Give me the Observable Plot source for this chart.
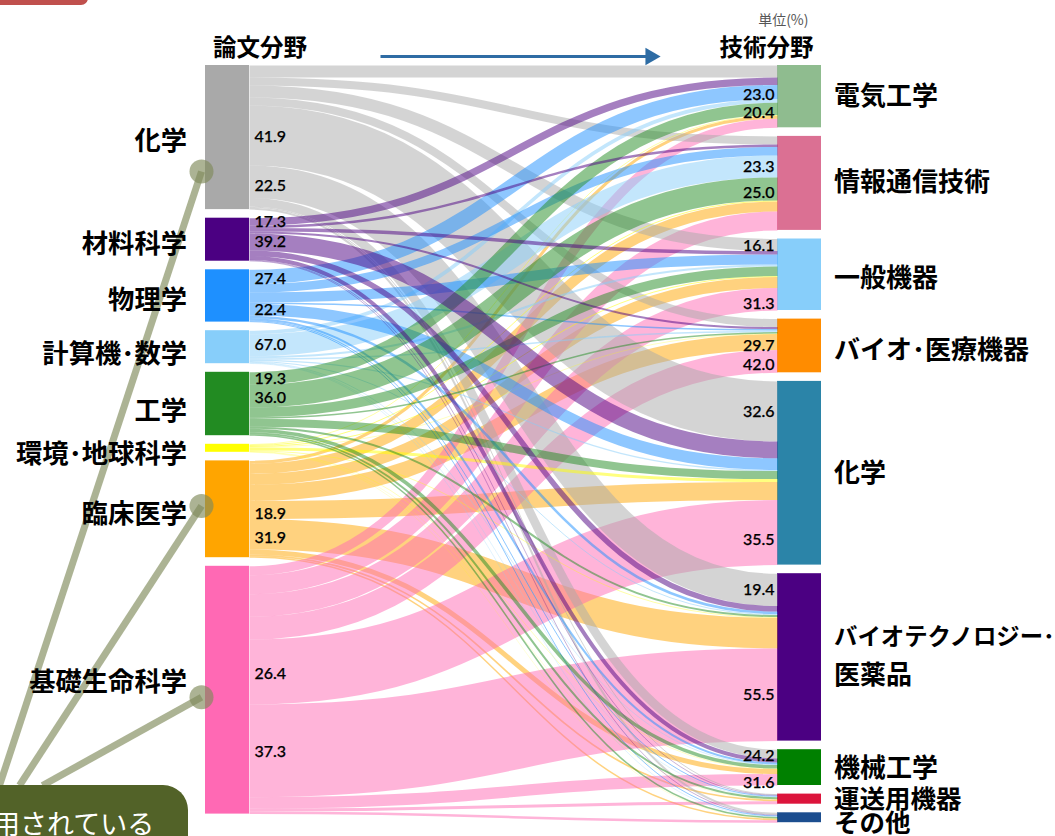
<!DOCTYPE html>
<html lang="ja"><head><meta charset="utf-8">
<script src="https://cdn.jsdelivr.net/npm/d3@7"></script>
<script src="https://cdn.jsdelivr.net/npm/@observablehq/plot@0.6"></script>
<style>
html,body{margin:0;padding:0;background:#fff;overflow:hidden;width:1055px;height:836px}
#wrap{position:relative;width:1055px;height:836px;overflow:hidden}
#tab{position:absolute;left:-20px;top:-20px;width:108px;height:25px;background:#c0504d;border-radius:7px}
#box{position:absolute;left:-40px;top:785px;width:228px;height:90px;background:#526228;border-radius:25px;color:#fff;font:27px/1 "Noto Sans CJK JP",sans-serif;white-space:nowrap;z-index:2}
#box span{position:absolute;left:6px;top:24px}
</style></head><body>
<div id="wrap"><div id="tab"></div><div id="box"><span>引用されている</span></div><div id="chart"></div></div>
<script>
const sources = ["化学","材料科学","物理学","計算機・数学","工学","環境・地球科学","臨床医学","基礎生命科学"];
const sourceLabels = ["化学","材料科学","物理学","計算機･数学","工学","環境･地球科学","臨床医学","基礎生命科学"];
const sourceColors = ["#a9a9a9","#4b0082","#1e90ff","#87cefa","#228b22","#ffff00","#ffa500","#ff69b4"];
const targets = ["電気工学","情報通信技術","一般機器","バイオ・医療機器","化学","バイオテクノロジー・医薬品","機械工学","運送用機器","その他"];
const targetLabels = ["電気工学","情報通信技術","一般機器","バイオ･医療機器","化学","バイオテクノロジー･","機械工学","運送用機器","その他"];
const targetColors = ["#8fbc8f","#db7093","#87cefa","#ff8c00","#2b84a8","#4b0082","#008000","#dc143c","#1c4e8f"];
const targetLabelSizes = [26,26,26,26,26,23.4,26,25.5,25.5];
const extraLabel = {text:"医薬品",target:5};
// estimated flow sizes: rows = paper field, columns = technology field
const flows = [
  [12,  8,   12,  8,   60,  32.4, 8.7, 1,   2],
  [7.4, 2.5, 3.5, 2,   16.9,5.5,  4,   0.6, 0.6],
  [14.2,8.5, 10,  1.5, 11.6,2.5,  2,   1,   1],
  [3.6, 22,  2,   1.5, 1.2, 1,    0.7, 0.5, 0.5],
  [12.4,23,  9.5, 1.5, 8,   2,    3.5, 2,   1.5],
  [0.7, 1,   1,   0.5, 3,   0.7,  0.5, 0.3, 0.3],
  [3,   10,  11,  16,  18,  30.6, 5,   1.7, 1.5],
  [9,   19,  22.5,22.7,65,  92.7, 11.4,3,   2.5]
];
// percentage labels: [source index, target index, text]
const leftPct = [[0,4,"41.9"],[0,5,"22.5"],[1,0,"17.3"],[1,4,"39.2"],[2,0,"27.4"],[2,4,"22.4"],[3,1,"67.0"],[4,0,"19.3"],[4,1,"36.0"],[6,4,"18.9"],[6,5,"31.9"],[7,4,"26.4"],[7,5,"37.3"]];
const rightPct = [[2,0,"23.0"],[4,0,"20.4"],[3,1,"23.3"],[4,1,"25.0"],[0,2,"16.1"],[7,2,"31.3"],[6,3,"29.7"],[7,3,"42.0"],[0,4,"32.6"],[7,4,"35.5"],[0,5,"19.4"],[7,5,"55.5"],[0,6,"24.2"],[7,6,"31.6"]];
const rightPctShift = [3,4,0,4,1,5,4,3,0,7,0,0,2,3];
const leftPctShift = [1,4,0,0,2,0,0,0,2,4,4,2,1];
const sourceLabelShift = [4,4.5,5,7,7.5,6,5,-7.5];
const targetLabelShift = [0,-1,4,5,0,-20,1.5,1,6];
const drawOrder = [6,7,0,5,3,2,4,1];
const leaderNodes = [0,6,7];
const leaderInset = [106,45,131];
const leaderEndPx = [-1,19,42];

const gap = 8.6, nodeW = 44/528;
const ribbons = [];
const layout = new Map();
const srcNodes = [], tgtNodes = [];
let yy = 0;
sources.forEach((s,i)=>{
  const tot = d3.sum(flows[i]);
  srcNodes.push({name:sourceLabels[i],y0:yy,y1:yy+tot,color:sourceColors[i],shift:sourceLabelShift[i]});
  let c = yy;
  flows[i].forEach((v,j)=>{layout.set(i+"-"+j,{l0:c,l1:c+v,v});c+=v;});
  yy += tot+gap;
});
yy = 0;
targets.forEach((t,j)=>{
  const tot = d3.sum(flows,r=>r[j]);
  tgtNodes.push({name:targetLabels[j],y0:yy,y1:yy+tot,color:targetColors[j],shift:targetLabelShift[j],size:targetLabelSizes[j]});
  let c = yy;
  flows.forEach((r,i)=>{const f=layout.get(i+"-"+j);f.r0=c;f.r1=c+r[j];c+=r[j];});
  yy += tot+gap;
});
drawOrder.forEach(i=>{
  targets.forEach((t,j)=>{
    const f = layout.get(i+"-"+j), id=i+"-"+j, color=sourceColors[i];
    ribbons.push({id,color,x:0,y:(f.l0+f.l1)/2,w:f.v},{id,color,x:1,y:(f.r0+f.r1)/2,w:f.v});
  });
});
const leftLab = leftPct.map(([i,j,text],k)=>{const f=layout.get(i+"-"+j);return {text,y:(f.l0+f.l1)/2+leftPctShift[k]};});
const rightLab = rightPct.map(([i,j,text],k)=>{const f=layout.get(i+"-"+j);return {text,y:(f.r0+f.r1)/2+rightPctShift[k]};});

const toX = px=>(px-249)/528, toY = px=>px-65;
const leaderDots = leaderNodes.map((n,k)=>({x:-nodeW,y:srcNodes[n].y0+leaderInset[k]}));
const leaders = leaderDots.flatMap((d,k)=>[
  {k,x:toX(201),y:d.y},
  {k,x:toX(leaderEndPx[k]),y:toY(785)}
]);
const CJK = '"Noto Sans CJK JP",sans-serif', olive="#7f8a5a";
const NUM = 'Lato,"Noto Sans",sans-serif';
const extra = tgtNodes[extraLabel.target];

const chart = Plot.plot({
  width:1055,height:836,margin:0,
  x:{domain:[0,1],range:[249,777],axis:null},
  y:{domain:[0,757],range:[65,822],axis:null},
  color:{type:"identity"},
  style:{background:"transparent"},
  marks:[
    Plot.rect(srcNodes,{x1:-nodeW,x2:0,y1:"y0",y2:"y1",fill:"color"}),
    Plot.rect(tgtNodes,{x1:1,x2:1+nodeW,y1:"y0",y2:"y1",fill:"color"}),
    Plot.line(ribbons,{x:"x",y:"y",z:"id",stroke:"color",strokeWidth:"w",strokeOpacity:0.5,strokeLinecap:"butt",curve:"bump-x"}),
    Plot.line(leaders,{x:"x",y:"y",z:"k",stroke:olive,strokeWidth:7,strokeOpacity:0.65,strokeLinecap:"butt"}),
    Plot.dot(leaderDots,{x:"x",y:"y",dx:-4,r:12,fill:olive,fillOpacity:0.65}),
    Plot.text(srcNodes,{x:-nodeW,y:d=>(d.y0+d.y1)/2+d.shift,dx:-18.5,text:"name",textAnchor:"end",fontFamily:CJK,fontWeight:700,fontSize:26.3,fill:"#000"}),
    Plot.text(tgtNodes,{x:1+nodeW,y:d=>(d.y0+d.y1)/2+d.shift,dx:12.5,text:"name",textAnchor:"start",fontFamily:CJK,fontWeight:700,fontSize:"size",fill:"#000"}),
    Plot.text([extraLabel.text],{x:1+nodeW,y:(extra.y0+extra.y1)/2+18,dx:12.5,textAnchor:"start",fontFamily:CJK,fontWeight:700,fontSize:26,fill:"#000"}),
    Plot.text(leftLab,{x:0,y:"y",dx:5,text:"text",textAnchor:"start",fontFamily:NUM,fontWeight:500,fontSize:16,fill:"#000",stroke:"#000",strokeWidth:0.25}),
    Plot.text(rightLab,{x:1,y:"y",dx:-3,text:"text",textAnchor:"end",fontFamily:NUM,fontWeight:500,fontSize:16,fill:"#000",stroke:"#000",strokeWidth:0.25}),
    Plot.text(["論文分野"],{x:toX(259.5),y:toY(48),fontFamily:CJK,fontWeight:700,fontSize:23.5,fill:"#000"}),
    Plot.text(["技術分野"],{x:toX(766),y:toY(48),fontFamily:CJK,fontWeight:700,fontSize:23.5,fill:"#000"}),
    Plot.text(["単位(%)"],{x:toX(808),y:toY(20),textAnchor:"end",fontFamily:CJK,fontSize:14,fill:"#555"}),
    Plot.line([{x:toX(380),y:toY(56)},{x:toX(648),y:toY(56)}],{x:"x",y:"y",stroke:"#2e6ca4",strokeWidth:3,strokeLinecap:"butt"}),
    Plot.dot([{x:toX(650),y:toY(56)}],{x:"x",y:"y",symbol:"triangle",rotate:90,r:6.5,fill:"#2e6ca4"})
  ]
});
document.getElementById("chart").appendChild(chart);
</script></body></html>
